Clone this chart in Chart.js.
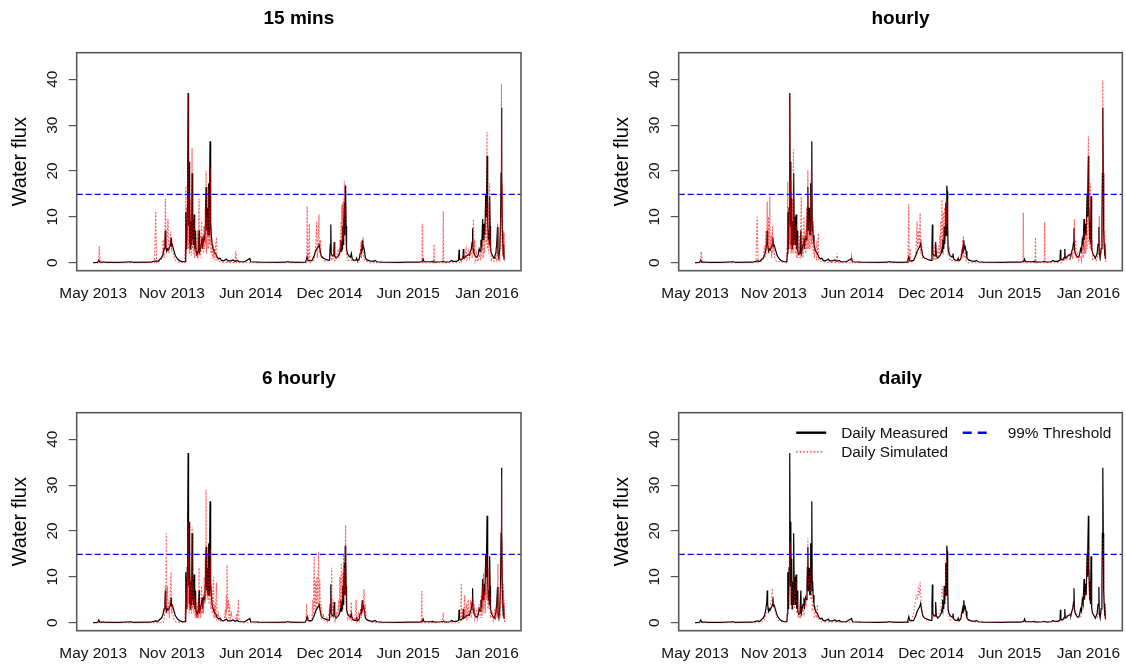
<!DOCTYPE html>
<html>
<head>
<meta charset="utf-8">
<script src="https://cdn.jsdelivr.net/npm/chart.js@4.4.1/dist/chart.umd.min.js"></script>
<style>
  html, body { margin: 0; padding: 0; background: #fff; overflow: hidden; width: 1126px; height: 665px; }
  canvas { position: absolute; }
</style>
</head>
<body>
<canvas id="p15" width="530" height="310" style="left:0;top:0"></canvas>
<canvas id="pHourly" width="524" height="310" style="left:602px;top:0"></canvas>
<canvas id="p6h" width="530" height="305" style="left:0;top:360px"></canvas>
<canvas id="pDaily" width="524" height="305" style="left:602px;top:360px"></canvas>
<script>
// time step index (0..940) with month labels every 180 steps
const tickLabels = ['May 2013', 'Nov 2013', 'Jun 2014', 'Dec 2014', 'Jun 2015', 'Jan 2016'];
const tickStep = 180;
const lastIndex = 940;
const threshold = 14.9;

// measured water flux, [index, value]
const measured = [
  [0,0],[10,0.05],[13,0.6],[15,0.1],[23,0.15],[30,0.05],[60,0.05],[88,0.2],[92,0.05],[130,0.1],[143,0.4],[148,0.3],
  [152,0.7],[156,1.0],[159,1.6],[162,3],[164,4.5],[165,7],[166,4],[168,2.5],[170,3],[172,2.8],[175,3.5],[177,4],
  [178,5.5],[179,3.6],[181,3.8],[184,2.8],[188,1.5],[193,0.8],[198,0.4],[205,0.2],[210,0.2],[211,2],[212,11],[213,5],
  [214,3],[215,12],[216,22.5],[217,37],[218,8],[219,22],[220,4],[221,14],[222,3],[223,9],[224,4],[225,6],[226,19.5],
  [227,5],[228,10],[229,4],[230,8],[231,10.5],[232,3],[233,5],[234,7],[235,2.5],[237,1.8],[239,2],[240,2.5],[242,7],
  [243,2],[245,3],[247,4],[249,5.5],[250,3],[252,5],[253,5.5],[255,5],[256,8],[257,12],[258,16.5],[259,7],[260,9],
  [261,12],[262,6],[263,11],[264,17.3],[265,6],[266,15],[267,26.5],[268,7],[269,9],[270,6],[272,4],[274,3],[276,2.5],
  [278,2.2],[280,2],[283,1.2],[287,0.8],[290,1],[293,0.5],[298,0.4],[305,0.8],[307,0.4],[315,0.4],[320,0.6],[324,0.3],
  [330,0.5],[333,0.2],[340,0.2],[346,0.2],[358,0.9],[360,0.2],[380,0.1],[420,0.05],[440,0.1],[445,0.25],[450,0.1],
  [470,0.05],[485,0.1],[487,0.6],[489,1.3],[491,0.5],[495,0.4],[500,0.5],[505,1.5],[508,2.5],[511,3],[514,3.5],
  [516,4.2],[518,3],[521,1.5],[525,1],[530,0.8],[535,0.6],[540,0.5],[542,4],[543,8.3],[544,2],[547,1.5],[549,1.5],
  [550,3],[551,4.5],[552,1.5],[555,1],[560,1.5],[563,2],[565,3],[566,5],[567,2.5],[568,4.5],[569,3],[570,8],[571,4],
  [572,6],[573,9],[574,13],[575,6],[576,16.8],[577,15.5],[578,8],[579,3],[581,2],[584,1.5],[588,1.2],[590,2],[592,0.8],
  [596,0.5],[600,0.5],[602,1],[604,0.4],[608,0.8],[610,2],[612,3],[613,2],[615,4.9],[616,3],[618,3.5],[620,2.5],
  [622,1],[626,0.6],[632,0.4],[640,0.3],[644,0.5],[648,0.2],[660,0.1],[700,0.05],[720,0.1],[740,0.15],[745,0.1],
  [752,0.3],[754,0.8],[756,0.2],[770,0.2],[777,0.3],[780,0.1],[795,0.2],[800,0.3],[805,0.1],[815,0.2],[819,0.5],
  [822,0.3],[830,0.3],[835,0.5],[836,2.8],[837,0.8],[840,0.6],[842,0.7],[845,1.2],[846,3],[847,1],[850,1.2],[853,1.5],
  [856,1.6],[858,1.8],[860,1.6],[862,2.5],[864,3],[866,4.5],[867,7.5],[868,3],[870,2],[873,1.5],[876,1.2],[878,1.3],
  [880,1.8],[882,3],[884,2.5],[886,5],[888,4],[890,9.5],[891,5],[893,8.5],[895,6],[897,15],[898,10],[899,15.5],
  [900,23.3],[901,12],[902,9],[903,5],[904,7],[905,4],[906,14.5],[907,8],[908,3],[910,2],[913,1.5],[916,1],[918,1.5],
  [920,2],[922,4],[924,7.8],[925,2],[927,1],[929,3],[931,9],[932,19.5],[933,33.8],[934,19.5],[935,7],[936,4.2],
  [937,1.5],[938,4],[939,0.8],[940,0.8]
];

// simulated, 15 minute time step
const sim15min = [
  [0,0],[12,0],[14,3.5],[16,0],[140,0],[143,11.2],[145,0],[155,0.5],[158,2],[160,5],[162,1],[164,6],[165,14],[167,3],
  [169,5],[171,9.5],[173,2],[175,4],[177,6.8],[179,3],[181,4],[184,1.5],[188,0.5],[195,0.1],[209,0],[211,5],[212,16.7],
  [213,2],[215,10],[216,5],[217,37],[218,3],[219,15],[220,2],[221,10],[222,4],[223,14],[224,1.5],[225,6],[226,25],
  [227,3],[228,8],[229,2],[231,10],[232,1],[234,5],[235,1.5],[237,3],[239,7],[240,1],[242,14],[243,1.5],[245,6],
  [246,1],[248,9],[249,3],[251,6],[252,2],[253,8],[255,3],[256,12],[257,4],[258,20],[259,2],[261,10],[262,3],[263,16],
  [264,3],[266,12],[267,4],[268,20.5],[269,2],[271,5],[272,0.8],[274,4],[275,1],[277,3],[278,0.5],[280,4],[282,5.5],
  [283,0.5],[286,0.3],[290,0.2],[300,0.1],[324,0],[326,2.6],[328,0],[488,0],[489,12.3],[490,0],[492,1],[494,8.5],
  [495,0],[505,0.5],[507,2],[509,5],[511,9],[512,1],[514,4],[516,10.5],[517,2],[519,5],[521,1],[525,1.5],[530,0.3],
  [540,0.5],[543,2],[545,0.5],[549,1],[551,4.5],[552,0.5],[556,1],[560,3],[562,1],[564,5],[565,2],[566,9],[567,3],
  [568,12.5],[569,4],[570,13],[571,5],[572,14],[573,6],[574,17.8],[575,10],[576,12],[577,5],[579,2],[582,0.5],
  [590,0.5],[602,0.5],[605,0],[610,1],[612,4.5],[613,1],[615,3],[617,5.5],[618,1],[621,0.5],[630,0],[751,0],[752,8.5],
  [753,0],[778,0],[779,4],[780,0],[799,0],[800,11.2],[801,0],[838,0],[840,1],[842,0.3],[846,2],[848,0.5],[852,3],
  [854,0.8],[858,2.5],[860,1],[864,3],[866,1],[869,9.5],[870,2],[872,5],[873,0.5],[876,2],[878,0.3],[882,1],[884,2],
  [886,0.5],[888,3],[890,4.8],[891,1],[893,8],[894,2],[896,5],[898,12],[899,4],[900,28.5],[901,3],[903,13],[904,2],
  [906,17.3],[907,3],[908,5],[910,0.5],[913,1],[916,0.3],[920,1],[922,0.5],[924,8.5],[925,0.5],[927,2],[929,1],
  [931,10],[932,3],[933,39],[934,10],[935,17],[936,2],[937,6],[938,0.5],[939,6.5],[940,0]
];

// simulated, hourly time step
const simHourly = [
  [0,0],[12,0],[14,2.4],[16,0],[139,0],[142,10],[144,0],[155,0.5],[158,3],[160,1],[162,7],[163,2],[165,13.3],[166,3],
  [168,10],[169,2],[171,14.5],[172,3],[174,6],[175,1],[177,7.9],[178,2],[180,4],[182,1],[186,0.3],[209,0],[211,5],
  [212,17.7],[213,2],[215,12],[216,4],[217,37],[218,3],[219,18],[220,2],[221,11],[222,3],[223,14],[224,2],[225,24.7],
  [226,4],[228,10],[229,2],[231,8],[232,1],[234,5],[235,1],[237,3],[239,6],[240,1],[243,14.4],[244,2],[246,6],[247,1],
  [249,10],[250,3],[252,7],[253,2],[255,12],[256,3],[258,20.2],[259,3],[261,9],[262,3],[264,15],[265,3],[266,20],
  [267,4],[269,10],[270,2],[272,5],[273,1],[275,3],[277,4],[278,0.5],[280,3],[282,6.4],[283,0.5],[287,0.3],[300,0.1],
  [323,0],[325,2],[327,0],[356,0],[358,1.5],[360,0],[487,0],[489,12.8],[490,0],[492,3],[493,0],[500,0.5],[505,2],
  [508,9],[509,2],[511,7],[513,4],[515,10.8],[516,2],[518,5],[520,1],[525,1],[540,0.5],[543,3],[545,0.5],[548,4],
  [549,0.5],[553,1],[556,3],[558,1],[560,6],[561,2],[562,9],[563,3],[565,13.8],[566,4],[568,11],[569,5],[571,12],
  [572,6],[574,14],[575,8],[576,13],[577,5],[579,2],[582,3],[583,0.5],[590,0.5],[600,0.3],[608,1],[610,3],[611,1],
  [612,5],[613,2],[614,5.8],[615,1],[618,2],[620,0.5],[625,0],[750,0],[751,10.9],[752,0],[778,0],[779,5.5],[780,0],
  [799,0],[800,8.9],[801,0],[838,0],[842,1],[844,0.3],[848,1.5],[850,0.5],[855,2],[857,0.5],[862,2.5],[864,0.8],
  [866,4],[868,9.5],[869,2],[871,5],[872,1],[876,2],[878,0.5],[882,1.5],[884,0.5],[887,4],[888,1],[890,7],[891,2],
  [893,6],[894,2],[896,10],[897,3],[900,27.6],[901,4],[903,12],[904,3],[905,17.3],[906,3],[908,5],[910,0.5],[914,1],
  [918,0.5],[922,1.5],[924,3],[925,10.2],[926,0.5],[929,2],[931,8],[932,3],[933,39.8],[934,12],[935,20],[936,3],
  [937,7],[938,1],[939,4],[940,0]
];

// simulated, 6 hourly time step
const sim6Hourly = [
  [0,0],[160,0],[162,0.5],[164,3],[165,8],[166,2],[167,19.5],[168,3],[170,8],[171,2],[173,5],[174,1],[176,6],[178,11],
  [179,2],[181,4],[183,1],[186,0.5],[190,0.1],[209,0],[211,4],[212,11],[213,2],[215,9],[216,3],[217,22],[218,4],
  [219,14],[220,2],[222,10],[223,3],[224,8],[225,2],[226,21],[227,3],[229,8],[230,2],[232,6],[233,1],[235,4],[236,1],
  [238,3],[240,5],[241,1],[242,12],[243,2],[245,4],[246,1],[248,8],[249,2],[251,5],[252,2],[254,10],[255,4],[256,14],
  [257,5],[258,29],[259,6],[261,15],[262,5],[264,12],[265,4],[266,10],[267,6],[268,16],[269,3],[271,7],[272,2],
  [275,10],[276,1],[278,4],[279,1],[282,8.7],[283,1],[286,2],[288,0.3],[300,0.5],[302,3],[303,1],[304,6],[305,2],
  [306,12.6],[307,3],[309,5],[310,1],[312,4],[313,1],[316,2],[318,0.5],[325,0.3],[328,2],[329,0.5],[332,5.1],[333,1],
  [336,0.3],[345,0],[485,0],[487,2],[488,4],[489,0.5],[492,1],[494,0],[500,0.5],[502,5],[503,1],[505,14.4],[506,3],
  [508,9],[509,2],[511,10],[512,4],[515,15.4],[516,4],[518,9.5],[519,2],[521,4],[522,1],[526,2],[528,0.5],[533,1],
  [535,0.3],[541,3],[543,5],[544,1],[545,12],[546,2],[548,5],[549,1],[552,3],[553,0.5],[556,2],[558,1],[561,5],[562,2],
  [564,10],[565,3],[567,13],[568,4],[570,11],[571,5],[572,15],[573,7],[574,12],[575,6],[576,15],[577,21.3],[578,8],
  [580,3],[582,1],[585,2],[587,0.5],[590,4.5],[591,0.5],[595,1],[598,0.5],[601,5],[602,0.5],[606,2],[608,0.5],[612,3],
  [613,1],[615,5],[616,2],[619,7.3],[620,2],[622,4],[624,1],[628,0.5],[635,0],[750,0],[751,6.9],[752,0],[798,0],
  [800,2.2],[801,0],[838,0],[840,2],[841,8.6],[842,1],[845,3],[846,0.5],[849,6],[850,1],[853,4],[854,0.5],[857,5],
  [858,1],[861,3],[863,5],[864,1],[867,6],[868,2],[871,4],[872,1],[876,3],[878,1],[882,4],[884,1],[887,6],[888,1],
  [890,8],[891,2],[892,10.8],[893,3],[895,7],[896,2],[898,15],[899,5],[901,10],[902,3],[904,12],[905,3],[907,6],
  [908,1],[912,2],[914,0.5],[918,3],[919,0.5],[922,5],[923,1],[925,12.8],[926,1],[929,3],[930,1],[931,8],[932,4],
  [933,31.5],[934,10],[935,18],[936,3],[937,8.5],[938,1],[939,5],[940,0]
];

// simulated, daily time step
const simDaily = [
  [0,0],[150,0],[158,0.5],[162,1.5],[166,3],[170,2.5],[174,5],[177,7.5],[179,4],[182,3],[186,1.5],[190,0.5],[200,0.1],
  [210,0.2],[212,2],[214,5],[216,12],[218,17.5],[219,6],[221,9],[222,3],[224,6],[226,10],[227,3],[229,6],[231,9],
  [232,2],[234,5],[236,1],[238,2],[240,1],[242,4],[244,1.5],[247,3],[249,2],[252,5],[254,4],[256,10],[258,18.4],
  [259,8],[261,10],[262,6],[264,12],[265,5],[267,8],[268,3],[271,4],[273,1],[276,3],[278,1],[280,4],[281,1],[285,0.5],
  [290,0.2],[300,0.1],[490,0.1],[495,0.5],[500,2],[503,4],[506,6],[509,5],[511,8],[513,6],[515,8.8],[517,5],[519,3],
  [521,1.5],[525,1],[530,0.6],[540,0.5],[543,2],[545,1],[550,2],[552,1],[556,1.5],[560,2.5],[563,4],[565,8],[567,6],
  [569,5],[571,7],[573,9],[575,15],[576,6],[578,3],[581,1],[585,0.5],[590,1],[595,0.5],[600,0.3],[605,0.5],[608,1.5],
  [611,3],[614,4],[616,3],[618,2],[621,1],[625,0.4],[635,0.2],[650,0.1],[830,0.2],[840,0.5],[845,1],[850,1.5],[855,2],
  [860,1.5],[864,2.5],[867,4],[869,3],[872,2],[876,1.5],[880,1],[884,1.5],[888,4],[890,7],[892,5],[895,9],[897,12],
  [899,15],[900,16],[901,8],[903,5],[905,6],[906,9],[907,5],[909,2],[912,1.5],[916,0.8],[920,1],[924,2],[926,1],
  [929,2],[931,7],[932,12],[933,15],[934,18.5],[935,12],[936,4],[937,2],[939,1],[940,0.5]
];

const FONT = '"Liberation Sans", Arial, sans-serif';
const xPad = lastIndex * 0.04;
const xMin = -xPad, xMax = lastIndex + xPad;
const toXY = pairs => pairs.map(([x, y]) => ({ x, y }));

// R-like frame around the plotting region
const boxPlugin = {
  id: 'box',
  afterDraw(chart) {
    const { ctx, chartArea: a } = chart;
    ctx.save();
    ctx.strokeStyle = '#5a5a5a';
    ctx.lineWidth = 1.6;
    ctx.strokeRect(a.left, a.top, a.right - a.left, a.bottom - a.top);
    ctx.restore();
  }
};

// two-column legend in the top right of the plot
const legendPlugin = {
  id: 'rLegend',
  afterDraw(chart, args, opts) {
    if (!opts.show) return;
    const { ctx, chartArea: a } = chart;
    const ds = chart.data.datasets;
    const entries = [
      { d: ds[1], dx: 117.5, dy: 20, len: 30, tx: 162.5, width: 2.4 },
      { d: ds[0], dx: 117.5, dy: 39, len: 28, tx: 162.5, width: 2, dash: [1.5, 2] },
      { d: ds[2], dx: 284, dy: 20, len: 24, tx: 329, width: 2.6, dash: [9, 6] }
    ];
    ctx.save();
    ctx.font = '15.4px ' + FONT;
    ctx.textBaseline = 'middle';
    ctx.fillStyle = '#111';
    entries.forEach(e => {
      ctx.beginPath();
      ctx.setLineDash(e.dash || []);
      ctx.strokeStyle = e.d.legendColor || e.d.borderColor;
      ctx.lineWidth = e.width;
      ctx.moveTo(a.left + e.dx, a.top + e.dy);
      ctx.lineTo(a.left + e.dx + e.len, a.top + e.dy);
      ctx.stroke();
      ctx.fillText(e.d.label, a.left + e.tx, a.top + e.dy + 1.5);
    });
    ctx.restore();
  }
};

function drawPanel(id, title, simulated, simDash, rightPad, showLegend) {
  const canvas = document.getElementById(id);
  const h = canvas.height;
  new Chart(canvas, {
    type: 'line',
    data: {
      datasets: [
        {
          label: 'Daily Simulated',
          data: toXY(simulated),
          borderColor: 'rgba(255,0,0,0.62)',
          legendColor: 'rgba(255,60,60,0.8)',
          borderWidth: 1.1,
          borderDash: simDash,
          pointRadius: 0,
          tension: 0,
          order: 1
        },
        {
          label: 'Daily Measured',
          data: toXY(measured),
          borderColor: '#000',
          borderWidth: 1.2,
          pointRadius: 0,
          tension: 0,
          order: 2
        },
        {
          label: '99% Threshold',
          data: [{ x: xMin, y: threshold }, { x: xMax, y: threshold }],
          borderColor: '#0000ff',
          borderWidth: 1.3,
          borderDash: [6, 3],
          pointRadius: 0,
          order: 0
        }
      ]
    },
    options: {
      responsive: false,
      animation: false,
      events: [],
      layout: { padding: { left: 0, right: rightPad, top: 0, bottom: 0 } },
      plugins: {
        legend: { display: false },
        tooltip: { enabled: false },
        title: {
          display: true,
          text: title,
          fullSize: false,
          color: '#000',
          font: { family: FONT, size: 19, weight: 'bold' },
          padding: { top: 6.9, bottom: 23 }
        },
        rLegend: { show: showLegend }
      },
      scales: {
        x: {
          type: 'linear',
          min: xMin,
          max: xMax,
          grid: { display: false, drawTicks: false },
          border: { display: false },
          afterBuildTicks: s => { s.ticks = tickLabels.map((_, i) => ({ value: i * tickStep })); },
          afterFit: s => { s.height = h - 270.7; s.paddingLeft = 0; s.paddingRight = 0; },
          ticks: {
            autoSkip: false,
            maxRotation: 0,
            padding: 14,
            color: '#111',
            font: { family: FONT, size: 15.4 },
            callback: v => tickLabels[Math.round(v / tickStep)]
          }
        },
        y: {
          min: -1.75,
          max: 45.8,
          afterBuildTicks: s => { s.ticks = [0, 10, 20, 30, 40].map(v => ({ value: v })); },
          afterFit: s => { s.width = 76.7; s.paddingTop = 0; s.paddingBottom = 0; },
          grid: { drawOnChartArea: false, tickLength: 8, color: '#555', lineWidth: 1.2 },
          border: { display: false },
          title: {
            display: true,
            text: 'Water flux',
            color: '#000',
            font: { family: FONT, size: 20 },
            padding: { top: 8, bottom: 0 }
          },
          ticks: {
            minRotation: 90,
            maxRotation: 90,
            crossAlign: 'center',
            padding: 7.4,
            color: '#111',
            font: { family: FONT, size: 15.4 }
          }
        }
      }
    },
    plugins: [boxPlugin, legendPlugin]
  });
}

drawPanel('p15', '15 mins', sim15min, [2, 1.5], 9, false);
drawPanel('pHourly', 'hourly', simHourly, [2, 1.5], 3.7, false);
drawPanel('p6h', '6 hourly', sim6Hourly, [2, 1.5], 9, false);
drawPanel('pDaily', 'daily', simDaily, [1.5, 2], 3.7, true);
</script>
</body>
</html>
